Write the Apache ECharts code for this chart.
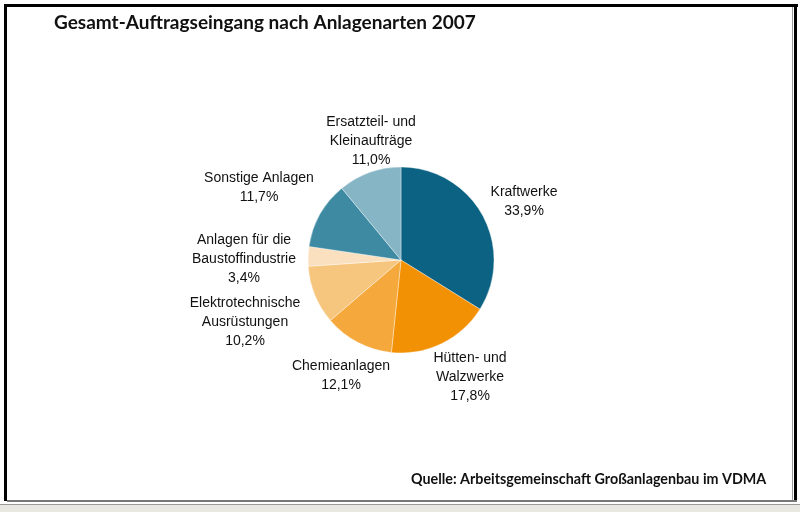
<!DOCTYPE html>
<html>
<head>
<meta charset="utf-8">
<script src="https://cdn.jsdelivr.net/npm/echarts@6/dist/echarts.min.js"></script>
<style>
  html, body { margin: 0; padding: 0; background: #fff; }
  #chart { width: 800px; height: 512px; }
</style>
</head>
<body>
<div id="chart"></div>
<script>
// Anlagenarten, clockwise from 12 o'clock
var categories = ['Kraftwerke', 'Hütten- und\nWalzwerke', 'Chemieanlagen', 'Elektrotechnische\nAusrüstungen',
    'Anlagen für die\nBaustoffindustrie', 'Sonstige Anlagen', 'Ersatzteil- und\nKleinaufträge'];
var shares = [33.9, 17.8, 12.1, 10.2, 3.4, 11.7, 11.0];
var colors = ['#0b6283', '#f29104', '#f5a93c', '#f7c67e', '#fae0be', '#3d8aa2', '#86b5c6'];
// label centres
var labelPos = [[524, 202], [470, 377], [341, 376], [245, 322], [244, 259], [259, 188], [371, 141]];

var chart = echarts.init(document.getElementById('chart'));

var pieData = [];
for (var i = 0; i < categories.length; i++) {
    pieData.push({ name: categories[i], value: shares[i], itemStyle: { color: colors[i] } });
}

var option = {
    backgroundColor: '#fff',
    animation: false,
    title: {
        text: 'Gesamt-Auftragseingang nach Anlagenarten 2007',
        left: 49,
        top: 8,
        textStyle: { fontFamily: 'Lato', fontWeight: 'bold', fontSize: 19, color: '#111' }
    },
    graphic: [
        // window frame
        { type: 'rect', shape: { x: 4, y: 4, width: 3, height: 497 }, style: { fill: '#000' } },
        { type: 'rect', shape: { x: 4, y: 4, width: 794, height: 3 }, style: { fill: '#000' } },
        { type: 'rect', shape: { x: 794, y: 4, width: 3, height: 497 }, style: { fill: '#000' } },
        { type: 'rect', shape: { x: 792, y: 7, width: 1, height: 494 }, style: { fill: '#999' } },
        { type: 'rect', shape: { x: 7, y: 500, width: 790, height: 2 }, style: { fill: '#777' } },
        { type: 'rect', shape: { x: 0, y: 504, width: 800, height: 8 }, style: { fill: '#e9e7e2' } },
        { type: 'rect', shape: { x: 0, y: 504, width: 800, height: 1 }, style: { fill: '#9a9a9a' } },
        {
            type: 'text', left: 411, top: 472,
            style: { text: 'Quelle: Arbeitsgemeinschaft Großanlagenbau im VDMA', fill: '#111',
                font: 'bold 14.3px Lato' }
        }
    ],
    series: [
        {
            type: 'pie',
            center: [401, 260],
            radius: 93,
            startAngle: 90,
            clockwise: true,
            data: pieData,
            itemStyle: { borderColor: 'rgba(255,255,255,0.6)', borderWidth: 0.6 },
            label: {
                show: true,
                position: 'outside',
                formatter: function (p) {
                    return p.name + '\n' + p.value.toFixed(1).replace('.', ',') + '%';
                },
                fontFamily: 'Liberation Sans',
                fontSize: 14,
                lineHeight: 19,
                color: '#111',
                align: 'center'
            },
            labelLine: { show: false },
            labelLayout: function (params) {
                var pos = labelPos[params.dataIndex];
                return { x: pos[0], y: pos[1], align: 'center', verticalAlign: 'middle' };
            },
            emphasis: { disabled: true }
        }
    ]
};

chart.setOption(option);
</script>
</body>
</html>
